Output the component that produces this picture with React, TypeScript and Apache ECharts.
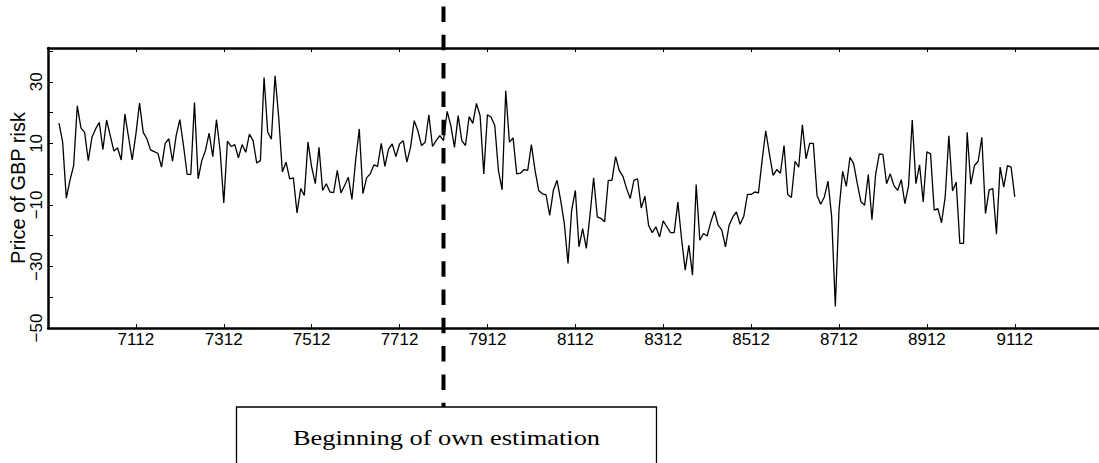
import React, { useEffect, useRef } from "react";
import * as echarts from "echarts";

// ---- data (monthly, first observation March 1970, YYMM labels) ----
const startMonth = "7003";
const gbpRiskPrice: number[] = [
  16.6, 10.4, -7.8, -2.0, 2.8, 22.2, 15, 13.6, 4.4, 12, 14.7, 16.8,
  8, 17.6, 12.5, 7.5, 8.5, 4.6, 19.5, 12, 4.6, 13, 23.1, 13.6,
  11.5, 7.9, 7.3, 6.8, 2.3, 10, 11.5, 4.2, 12.5, 17.7, 9.3, -0.1,
  -0.1, 23.3, -1.5, 4.4, 7.7, 13.3, 5.7, 17.7, 7.7, -9.4, 10.7, 9,
  9.6, 5.3, 9.6, 7.1, 13, 10.9, 3.6, 4.4, 31.4, 13.6, 11.4, 32,
  18.5, 0.7, 3.9, -1.5, -1.2, -12.6, -4.7, -6.9, 10.4, 2.3, -3.1, 8.7,
  -5.3, -3.1, -5.8, -6.0, 1.2, -6.1, -3.7, -1.0, -8.2, 4.4, 14.7, -6.3,
  -1.2, 0.1, 3.0, 2.5, 10, 2.5, 8.2, 9.8, 5.7, 9.8, 10.9, 3.9,
  8.7, 17.4, 14.1, 9.3, 10.4, 19.3, 9, 10.9, 12.5, 10.9, 20.4, 15.8,
  8.7, 19, 10.9, 9.3, 18.7, 16.5, 23, 19, 0.1, 19.3, 18.5, 15.8,
  1.2, -5.1, 27.1, 10.4, 11.8, 0.1, 0.3, 1.5, 1.2, 9.6, 1.2, -5.3,
  -6.4, -6.7, -13.4, -5.3, -2.0, -8.5, -16.1, -29, -11.7, -5.3, -23.6, -17.7,
  -24.1, -13.4, -1.2, -13.9, -14.4, -15.5, -2.0, -2.0, 5.7, 1.2, -0.7, -4.7,
  -7.9, -2.0, -1.5, -11, -7.2, -16.6, -19, -17.1, -20.4, -15.2, -17.1, -19,
  -19, -9.1, -20.9, -31.2, -23.1, -32.8, -3.4, -21.5, -19.3, -20.1, -15.5, -12,
  -16.6, -18.2, -23.6, -16.6, -13.9, -12.3, -16.3, -13.7, -6.6, -6.6, -5.8, -6.1,
  4.4, 14.1, 6.6, -0.4, 1.5, 0.3, 9.3, -6.6, -7.6, 4.2, 2.3, 16,
  5, 10, 10, -6.9, -9.8, -7.4, -2.3, -13.9, -43, -11.7, 0.9, -4,
  5.5, 3.4, -3.1, -9, -10.1, -0.1, -14.8, -0.1, 6.6, 6.4, -3.1, 0.1,
  -3.7, -5.3, -1.8, -9.6, -3.7, 17.6, -3.1, 3.0, -9, 7.3, 6.6, -11.7,
  -11.2, -15.8, -7.4, 12.5, -5.5, -2.6, -22.5, -22.5, 13.6, -3.3, 2.8, 4.2,
  12, -12.8, -5.1, -4.7, -19.5, 2.3, -4.2, 2.8, 2.3, -7.4,
];
const xTickLabels = ["7112", "7312", "7512", "7712", "7912", "8112", "8312", "8512", "8712", "8912", "9112"];
const yTickValues = [-50, -40, -30, -20, -10, 0, 10, 20, 30, 40];
const yLabelValues = [-50, -30, -10, 10, 30];
const yAxisTitle = "Price of GBP risk";
const estimationStart = "7812";
const estimationNote = "Beginning of own estimation";

// month index: 0 = December 1969
const monthIndex = (yymm: string) =>
  (Number(yymm.slice(0, 2)) - 69) * 12 + Number(yymm.slice(2)) - 12;
const indexToLabel = (i: number) => {
  const t = 69 * 12 + 11 + Math.round(i);
  const yy = Math.floor(t / 12);
  const mm = (t % 12) + 1;
  return `${yy}${String(mm).padStart(2, "0")}`;
};

const X_MIN = 0;
const X_MAX = 287;

export default function App() {
  const ref = useRef<HTMLDivElement>(null);

  useEffect(() => {
    document.body.style.margin = "0";
    document.body.style.overflow = "hidden";
    const chart = echarts.init(ref.current!, null, { renderer: "svg" });
    const start = monthIndex(startMonth);
    const data = gbpRiskPrice.map((v, k) => [start + k, v]);
    const xTicks = xTickLabels.map(monthIndex);

    const axisFont = { fontFamily: '"Liberation Sans", Arial, sans-serif', fontSize: 17, color: "#000" };

    chart.setOption({
      animation: false,
      grid: { left: 48, top: 48, right: 0, bottom: 135, containLabel: false, outerBoundsMode: "none" },
      xAxis: [
        {
          type: "value",
          position: "bottom",
          min: X_MIN,
          max: X_MAX,
          axisLine: { show: true, onZero: false, lineStyle: { color: "#000", width: 2.5 } },
          axisTick: { show: true, inside: true, length: 4, customValues: xTicks, lineStyle: { color: "#000", width: 1 } },
          axisLabel: {
            show: true,
            customValues: xTicks,
            margin: 3,
            formatter: (v: number) => indexToLabel(v),
            ...axisFont,
          },
          splitLine: { show: false },
        },
        {
          type: "value",
          position: "top",
          min: X_MIN,
          max: X_MAX,
          axisLine: { show: true, onZero: false, lineStyle: { color: "#000", width: 2.5 } },
          axisTick: { show: true, inside: true, length: 4, customValues: xTicks, lineStyle: { color: "#000", width: 1 } },
          axisLabel: { show: false },
          splitLine: { show: false },
        },
      ],
      yAxis: {
        type: "value",
        min: -50,
        max: 41,
        name: yAxisTitle,
        nameLocation: "middle",
        nameRotate: 90,
        nameGap: 20,
        nameMoveOverlap: false,
        nameTextStyle: { fontFamily: '"Liberation Sans", Arial, sans-serif', fontSize: 20, color: "#000" },
        axisLine: { show: true, onZero: false, lineStyle: { color: "#000", width: 2.5 } },
        axisTick: { show: true, inside: true, length: 5, customValues: yTickValues, lineStyle: { color: "#000", width: 1 } },
        axisLabel: {
          show: true,
          customValues: yLabelValues,
          rotate: 90,
          margin: 3,
          formatter: (v: number) => (v < 0 ? "\u2212" + Math.abs(v) : String(v)),
          ...axisFont,
        },
        splitLine: { show: false },
      },
      series: [
        {
          type: "line",
          xAxisIndex: 0,
          data,
          symbol: "none",
          showSymbol: false,
          silent: true,
          lineStyle: { color: "#000", width: 1.3 },
        },
      ],
    });

    const xPix = chart.convertToPixel({ xAxisIndex: 0 }, monthIndex(estimationStart)) as number;
    chart.setOption({
      graphic: [
        {
          type: "line",
          z: 100,
          shape: { x1: xPix, y1: 6.5, x2: xPix, y2: 446.5 },
          style: { stroke: "#000", lineWidth: 4, lineDash: [15.5, 12.8] },
        },
        {
          type: "rect",
          z: 100,
          shape: { x: 236.5, y: 407, width: 420, height: 80 },
          style: { fill: "#fff", stroke: "#000", lineWidth: 1.3 },
        },
        {
          type: "text",
          z: 101,
          x: 446.5,
          y: 437,
          scaleX: 1.2,
          style: {
            text: estimationNote,
            font: '22px "Liberation Serif", "Times New Roman", serif',
            fill: "#000",
            align: "center",
            verticalAlign: "middle",
          },
        },
      ],
    });

    return () => chart.dispose();
  }, []);

  return <div ref={ref} style={{ width: 1099, height: 463 }} />;
}
